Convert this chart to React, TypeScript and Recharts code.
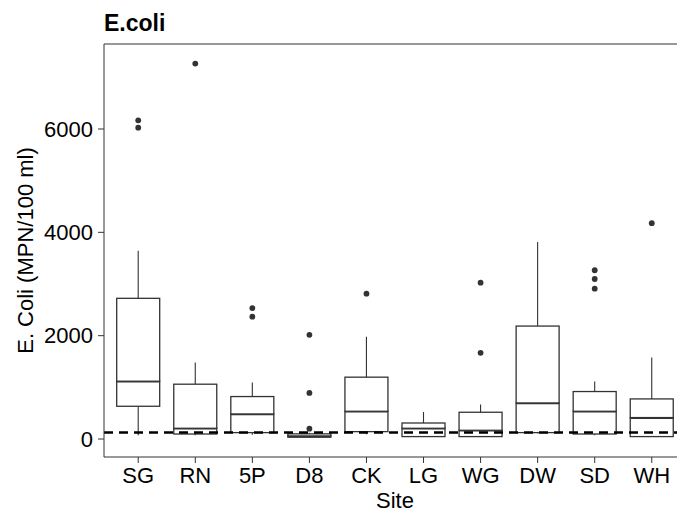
import React from "react";
import { ComposedChart, Bar, Line, XAxis, YAxis, ReferenceLine } from "recharts";

const SITES = ["SG", "RN", "5P", "D8", "CK", "LG", "WG", "DW", "SD", "WH"];
const LOW_WHISKER = [72, 72, 85, 20, 91, 47, 47, 110, 72, 47];
const Q1 = [634, 97, 124, 35, 143, 47, 47, 124, 97, 47];
const MEDIAN = [1119, 208, 485, 60, 537, 208, 169, 698, 537, 415];
const Q3 = [2723, 1061, 822, 100, 1197, 310, 518, 2186, 919, 776];
const HIGH_WHISKER = [3646, 1482, 1094, 120, 1978, 524, 667, 3815, 1113, 1579];
const OUTLIERS: number[][] = [
  [6168, 6026],
  [7267],
  [2535, 2367],
  [2017, 892, 200],
  [2813],
  [],
  [3026, 1668],
  [],
  [3266, 3097, 2909],
  [4178],
];
const Y_TICKS = [0, 2000, 4000, 6000];
const Y_MIN = -348;
const Y_MAX = 7645;
const STANDARD = 126;

const INK = "#333333";

const rows = SITES.map((site, i) => ({
  site,
  base: LOW_WHISKER[i],
  lowerWhisker: Q1[i] - LOW_WHISKER[i],
  lowerBox: MEDIAN[i] - Q1[i],
  upperBox: Q3[i] - MEDIAN[i],
  upperWhisker: HIGH_WHISKER[i] - Q3[i],
  o1: OUTLIERS[i][0] ?? null,
  o2: OUTLIERS[i][1] ?? null,
  o3: OUTLIERS[i][2] ?? null,
}));

function Nothing() {
  return <g />;
}

function Whisker(props: any) {
  const { x, y, width, height } = props;
  if (!(height > 0)) return <g />;
  const cx = x + width / 2;
  return <line x1={cx} x2={cx} y1={y} y2={y + height} stroke={INK} strokeWidth={1.1} />;
}

function UpperBox(props: any) {
  const { x, y, width, height } = props;
  return (
    <rect x={x} y={y} width={width} height={Math.max(height, 0)} fill="#fff" stroke={INK} strokeWidth={1.3} />
  );
}

// lower half of the box, the median is drawn on its top edge
function LowerBox(props: any) {
  const { x, y, width, height } = props;
  return (
    <g>
      <rect x={x} y={y} width={width} height={Math.max(height, 0)} fill="#fff" stroke={INK} strokeWidth={1.3} />
      <line x1={x} x2={x + width} y1={y} y2={y} stroke={INK} strokeWidth={2.6} />
    </g>
  );
}

const dot = { r: 2.9, fill: INK, stroke: "none" };

export default function App() {
  return (
    <div
      style={{
        position: "absolute",
        left: 0,
        top: 0,
        width: 677,
        height: 513,
        overflow: "hidden",
        background: "#fff",
        fontFamily: "'Liberation Sans', Arial, sans-serif",
      }}
    >
      <div
        style={{
          position: "absolute",
          left: 104,
          top: 10,
          fontSize: 23,
          fontWeight: "bold",
          color: "#000",
        }}
      >
        E.coli
      </div>
      <ComposedChart
        width={686}
        height={513}
        data={rows}
        margin={{ top: 44, right: 0, bottom: 0, left: 0 }}
      >
        <XAxis
          dataKey="site"
          height={56}
          padding={{ left: 5.7, right: 5.7 }}
          tickSize={6}
          tickMargin={4}
          tick={{ fontSize: 22, fill: "#000" }}
          stroke={INK}
          label={{ value: "Site", position: "insideBottom", offset: 5, fontSize: 22, fill: "#000" }}
        />
        <YAxis
          type="number"
          domain={[Y_MIN, Y_MAX]}
          ticks={Y_TICKS}
          allowDataOverflow
          width={104}
          tickSize={6}
          tickMargin={5}
          tick={{ fontSize: 22, fill: "#000" }}
          stroke={INK}
          label={{
            value: "E. Coli (MPN/100 ml)",
            angle: -90,
            position: "insideLeft",
            offset: 25,
            fontSize: 22,
            fill: "#000",
            style: { textAnchor: "middle" },
          }}
        />
        <ReferenceLine y={Y_MAX} stroke={INK} strokeWidth={1.2} />
        <Bar dataKey="base" stackId="box" barSize={43} shape={<Nothing />} isAnimationActive={false} />
        <Bar dataKey="lowerWhisker" stackId="box" barSize={43} shape={<Whisker />} isAnimationActive={false} />
        <Bar dataKey="lowerBox" stackId="box" barSize={43} shape={<LowerBox />} isAnimationActive={false} />
        <Bar dataKey="upperBox" stackId="box" barSize={43} shape={<UpperBox />} isAnimationActive={false} />
        <Bar dataKey="upperWhisker" stackId="box" barSize={43} shape={<Whisker />} isAnimationActive={false} />
        <Line dataKey="o1" stroke="none" dot={dot} activeDot={false} isAnimationActive={false} />
        <Line dataKey="o2" stroke="none" dot={dot} activeDot={false} isAnimationActive={false} />
        <Line dataKey="o3" stroke="none" dot={dot} activeDot={false} isAnimationActive={false} />
        <ReferenceLine y={STANDARD} stroke="#000" strokeWidth={2.5} strokeDasharray="9 6" />
      </ComposedChart>
    </div>
  );
}
